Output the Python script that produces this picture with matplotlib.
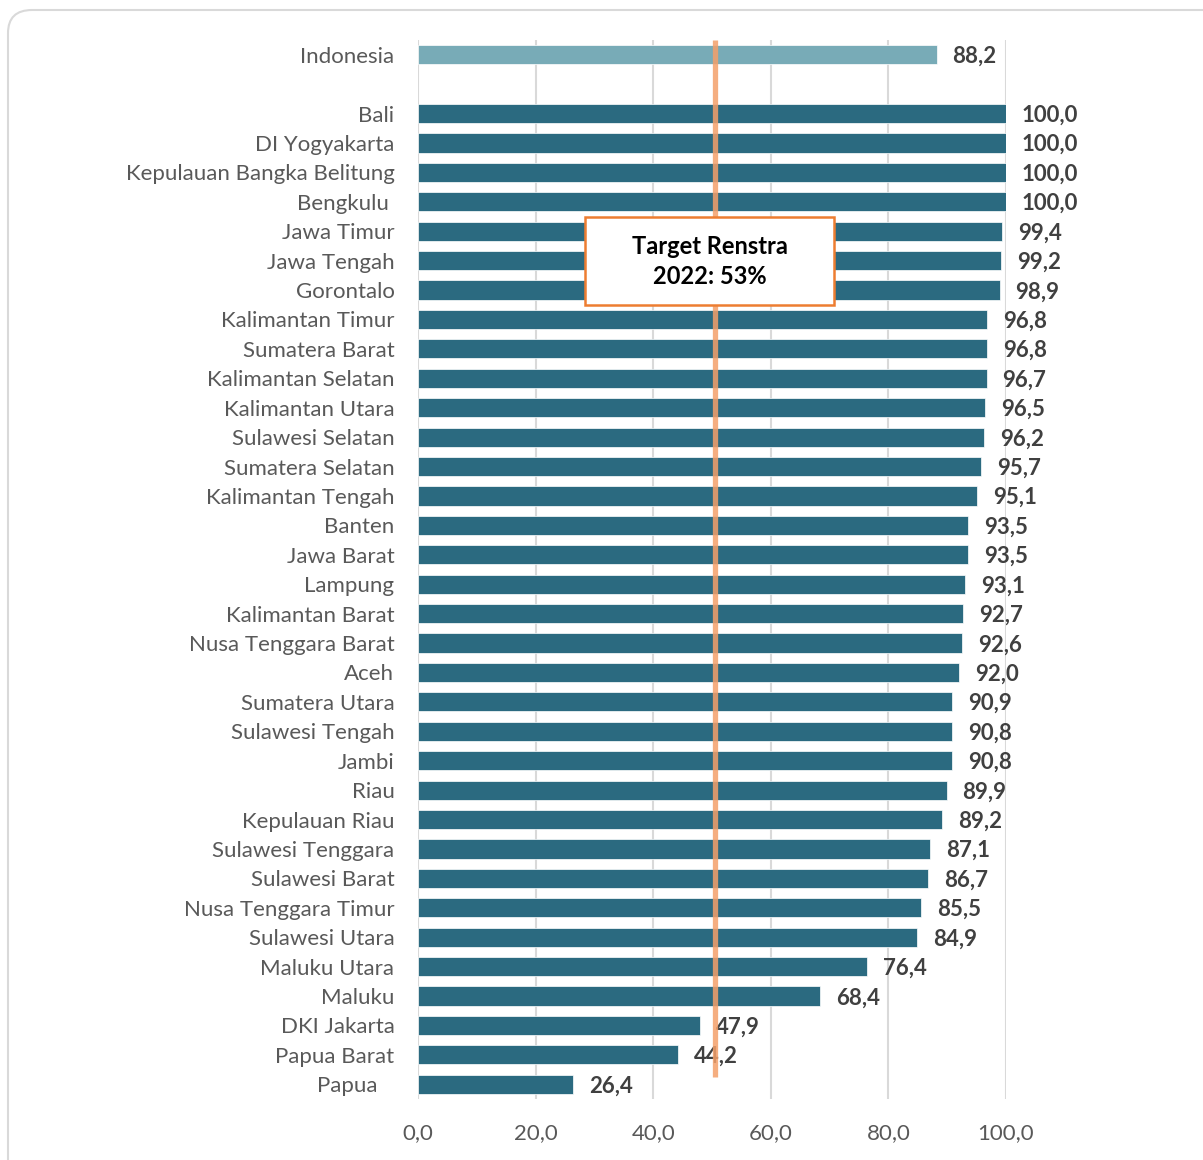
import matplotlib
matplotlib.use("Agg")
from matplotlib import pyplot as plt
from matplotlib.patches import FancyBboxPatch, Rectangle

plt.rcParams['font.family'] = ['Lato', 'DejaVu Sans']

# data, top to bottom
national_name = "Indonesia"
national_value = 88.2
provinces = ["Bali", "DI Yogyakarta", "Kepulauan Bangka Belitung", "Bengkulu ", "Jawa Timur",
             "Jawa Tengah", "Gorontalo", "Kalimantan Timur", "Sumatera Barat", "Kalimantan Selatan",
             "Kalimantan Utara", "Sulawesi Selatan", "Sumatera Selatan", "Kalimantan Tengah", "Banten",
             "Jawa Barat", "Lampung", "Kalimantan Barat", "Nusa Tenggara Barat", "Aceh",
             "Sumatera Utara", "Sulawesi Tengah", "Jambi", "Riau", "Kepulauan Riau",
             "Sulawesi Tenggara", "Sulawesi Barat", "Nusa Tenggara Timur", "Sulawesi Utara",
             "Maluku Utara", "Maluku", "DKI Jakarta", "Papua Barat", "Papua   "]
values = [100.0, 100.0, 100.0, 100.0, 99.4, 99.2, 98.9, 96.8, 96.8, 96.7, 96.5, 96.2, 95.7, 95.1,
          93.5, 93.5, 93.1, 92.7, 92.6, 92.0, 90.9, 90.8, 90.8, 89.9, 89.2, 87.1, 86.7, 85.5,
          84.9, 76.4, 68.4, 47.9, 44.2, 26.4]
xticks = [0, 20, 40, 60, 80, 100]
target_x = 50.5
target_text = "Target Renstra\n2022: 53%"

dark = "#2B6A80"
light = "#78ABB7"
label_col = "#404040"
tick_col = "#595959"

fig = plt.figure(figsize=(12.03, 11.6), dpi=100)
ax = fig.add_axes([418 / 1203, 1 - 1099 / 1160, 588 / 1203, (1099 - 40) / 1160])

# outer rounded frame
frame = FancyBboxPatch((8 / 1203, -0.05), 1.1, 1 - 10 / 1160 + 0.05,
                       boxstyle="round,pad=0,rounding_size=0.02",
                       transform=fig.transFigure, facecolor="none",
                       edgecolor="#D9D9D9", linewidth=1.5, clip_on=False)
fig.patches.append(frame)

pos_nat = 0
pos_prov = list(range(2, 2 + len(provinces)))

ax.barh(pos_nat, national_value, height=0.65, color=light, edgecolor="white", linewidth=0.5, zorder=2)
ax.barh(pos_prov, values, height=0.65, color=dark, edgecolor="white", linewidth=0.5, zorder=2)

for y, v in zip([pos_nat] + pos_prov, [national_value] + values):
    ax.annotate(f"{v:.1f}".replace(".", ","), (v, y), xytext=(11.5, -1.2), textcoords="offset points",
                ha="left", va="center", fontsize=16, fontweight="bold", color=label_col,
                annotation_clip=False, zorder=3)

ax.set_yticks([pos_nat] + pos_prov)
ax.set_yticklabels([national_name] + provinces, fontsize=16, color=tick_col)
ax.set_xticks(xticks)
ax.set_xticklabels([f"{t:.1f}".replace(".", ",") for t in xticks], fontsize=16, color=tick_col)
ax.tick_params(axis="y", length=0, pad=17)
ax.tick_params(axis="x", length=0, pad=17)
ax.set_xlim(0, 100)
ax.set_ylim(35.5, -0.5)
ax.grid(axis="x", color="#D9D9D9", linewidth=1.5, zorder=0)
ax.set_axisbelow(True)
for s in ax.spines.values():
    s.set_visible(False)

# target line
ax.plot([target_x, target_x], [-0.5, 34.75], color="#F4A06A", linewidth=3.8, alpha=0.85,
        solid_capstyle="butt", zorder=4)

# target callout box
ax.add_patch(Rectangle((28.4, 5.51), 42.3, 3.0, facecolor="white", edgecolor="#ED7D31",
                       linewidth=1.8, zorder=5))
ax.text(49.6, 7.03, target_text, ha="center", va="center", fontsize=17, fontweight="bold",
        color="black", linespacing=1.4, zorder=6)

fig.savefig("out.png", dpi=100)
